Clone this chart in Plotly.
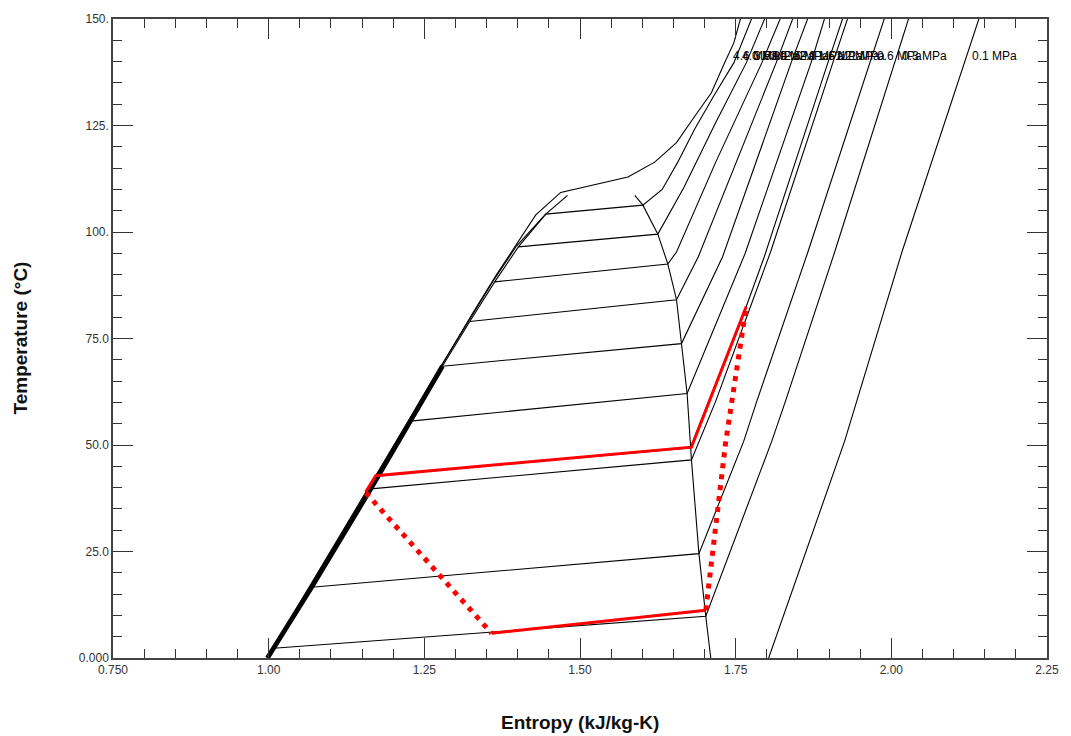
import numpy as np
import plotly.graph_objects as go

# ---------------- data (entropy kJ/kg-K, temperature degC) ----------------
liq_s = [0.998, 1.008, 1.069, 1.164, 1.228, 1.279, 1.323, 1.363, 1.401, 1.445, 1.480]
liq_T = [0.0, 2.3, 16.6, 39.7, 55.6, 68.5, 79.0, 88.3, 96.5, 104.2, 108.6]

vap_s = [1.588, 1.601, 1.625, 1.641, 1.655, 1.663, 1.672, 1.679, 1.691, 1.702, 1.710]
vap_T = [108.6, 106.3, 99.5, 92.5, 84.1, 73.8, 62.1, 46.5, 24.5, 9.8, 0.0]

p46_s = [0.997, 1.275, 1.329, 1.366, 1.393, 1.429, 1.469, 1.525, 1.577, 1.620, 1.655, 1.684, 1.711, 1.731, 1.747, 1.758]
p46_T = [0.0, 68.0, 81.3, 90.0, 96.0, 104.0, 109.3, 111.2, 112.9, 116.4, 121.0, 127.1, 132.7, 139.3, 144.4, 150.2]

p40_s = [1.275, 1.321, 1.361, 1.398, 1.445, 1.601, 1.632, 1.657, 1.684, 1.715, 1.747, 1.776]
p40_T = [68.0, 79.2, 88.6, 96.7, 104.2, 106.3, 110.0, 116.4, 124.1, 132.0, 139.7, 150.2]

p35_s = [1.401, 1.625, 1.667, 1.718, 1.767, 1.797]
p35_T = [96.5, 99.5, 110.5, 125.7, 139.7, 150.2]

p30_s = [1.363, 1.641, 1.655, 1.718, 1.792, 1.822]
p30_T = [88.3, 92.5, 95.3, 116.4, 139.7, 150.2]

p25_s = [1.323, 1.655, 1.690, 1.815, 1.842]
p25_T = [79.0, 84.1, 94.2, 139.7, 150.2]

p20_s = [1.279, 1.663, 1.729, 1.839, 1.866]
p20_T = [68.5, 73.8, 94.2, 139.7, 150.2]

p16_s = [1.228, 1.672, 1.765, 1.871, 1.893]
p16_T = [55.6, 62.1, 94.9, 139.7, 150.2]

p12_s = [1.172, 1.677, 1.767, 1.796, 1.898, 1.922]
p12_T = [42.8, 49.3, 82.5, 94.2, 139.7, 150.2]

p11_s = [1.164, 1.679, 1.718, 1.806, 1.906, 1.930]
p11_T = [39.7, 46.5, 60.3, 95.3, 139.7, 150.2]

p06_s = [1.069, 1.691, 1.763, 1.784, 1.866, 1.965, 1.989]
p06_T = [16.6, 24.5, 50.9, 60.3, 95.3, 139.7, 150.2]

p03_s = [1.008, 1.702, 1.808, 1.830, 1.909, 2.006, 2.028]
p03_T = [2.3, 9.8, 50.9, 60.3, 95.3, 139.7, 150.2]

p01_s = [1.803, 1.925, 2.017, 2.120, 2.141]
p01_T = [0.0, 50.9, 95.3, 140.9, 150.2]

isobar_labels = ["4.6 MPa", "4.0 MPa", "3.5 MPa", "3.0 MPa", "2.5 MPa", "2.0 MPa",
                 "1.6 MPa", "1.2 MPa", "1.1 MPa", "0.6 MPa", "0.3 MPa", "0.1 MPa"]
isobar_s = [p46_s, p40_s, p35_s, p30_s, p25_s, p20_s, p16_s, p12_s, p11_s, p06_s, p03_s, p01_s]
isobar_T = [p46_T, p40_T, p35_T, p30_T, p25_T, p20_T, p16_T, p12_T, p11_T, p06_T, p03_T, p01_T]
label_T = 141.3

# refrigeration cycle
cond_s = [1.156, 1.172, 1.679, 1.767]
cond_T = [39.0, 42.8, 49.5, 82.5]
evap_s = [1.358, 1.702]
evap_T = [5.8, 11.2]
expn_s = [1.156, 1.358]
expn_T = [38.8, 5.8]
comp_s = [1.702, 1.734, 1.767]
comp_T = [11.2, 50.7, 82.5]

x_ticks = [0.75, 1.0, 1.25, 1.5, 1.75, 2.0, 2.25]
x_tick_text = ["0.750", "1.00", "1.25", "1.50", "1.75", "2.00", "2.25"]
y_ticks = [0, 25, 50, 75, 100, 125, 150]
y_tick_text = ["0.000", "25.0", "50.0", "75.0", "100.", "125.", "150."]

# ---------------- figure ----------------
FONT = "Arial, Liberation Sans, sans-serif"
BLK = "#000000"
fig = go.Figure()

def add_line(s, T, color=BLK, width=1.1, dash="solid"):
    fig.add_trace(go.Scatter(x=s, y=T, mode="lines", hoverinfo="skip",
                             line=dict(color=color, width=width, dash=dash),
                             showlegend=False))

for s, T in zip(isobar_s, isobar_T):
    add_line(s, T)

add_line(liq_s, liq_T)
add_line(vap_s, vap_T)
# overlapping compressed-liquid branches make the lower liquid line heavy
add_line(liq_s[:6], liq_T[:6], color="#000000", width=4.8)

RED = "#ff0000"
add_line(expn_s, expn_T, color=RED, width=5, dash="5px,6px")
add_line(comp_s, comp_T, color=RED, width=5, dash="5px,6px")
add_line(cond_s, cond_T, color=RED, width=3)
add_line(evap_s, evap_T, color=RED, width=3)

annotations = []
for lab, s, T in zip(isobar_labels, isobar_s, isobar_T):
    xs = float(np.interp(label_T, T, s))
    annotations.append(dict(x=xs, y=label_T, xref="x", yref="y", text=lab,
                            showarrow=False, xanchor="left", yanchor="middle",
                            xshift=3, font=dict(family=FONT, size=12, color="#000000")))

annotations.append(dict(x=0.5, y=0, xref="paper", yref="paper",
                        text="<b>Entropy (kJ/kg-K)</b>", showarrow=False,
                        xanchor="center", yanchor="middle", yshift=-64,
                        font=dict(family=FONT, size=19, color="#111111")))
annotations.append(dict(x=0, y=0.5, xref="paper", yref="paper",
                        text="<b>Temperature (°C)</b>", showarrow=False, textangle=-90,
                        xanchor="center", yanchor="middle", xshift=-93,
                        font=dict(family=FONT, size=19, color="#111111")))

axis_common = dict(ticks="inside", ticklen=20, tickwidth=1, tickcolor="#333333",
                   showline=True, linewidth=1.5, linecolor="#444444", mirror="ticks",
                   showgrid=False, zeroline=False,
                   tickfont=dict(family=FONT, size=12, color="#333333"))

fig.update_xaxes(range=[0.75, 2.25], tickmode="array", tickvals=x_ticks, ticktext=x_tick_text,
                 minor=dict(dtick=0.05, tick0=0.75, ticks="inside", ticklen=9,
                            tickwidth=1, tickcolor="#333333", showgrid=False),
                 **axis_common)
fig.update_yaxes(range=[0, 150], tickmode="array", tickvals=y_ticks, ticktext=y_tick_text,
                 minor=dict(dtick=5, tick0=0, ticks="inside", ticklen=9,
                            tickwidth=1, tickcolor="#333333", showgrid=False),
                 **axis_common)

fig.update_layout(width=1071, height=736, margin=dict(l=113, r=15, t=16, b=78),
                  paper_bgcolor="white", plot_bgcolor="white",
                  annotations=annotations, showlegend=False)

fig.write_html("out.html", config={"displayModeBar": False},
               post_script="document.body.style.margin='0px';document.body.style.padding='0px';")
